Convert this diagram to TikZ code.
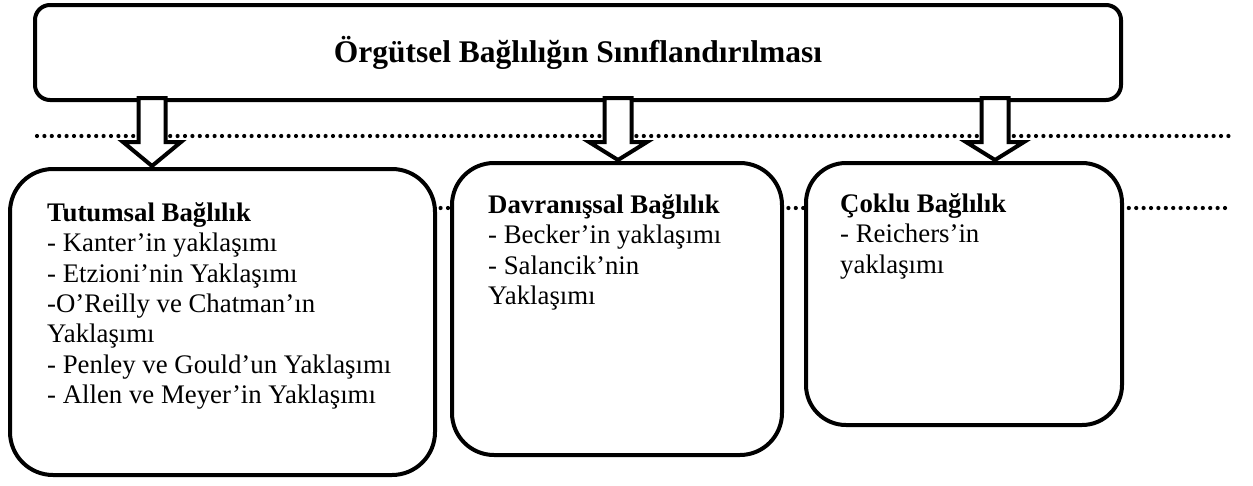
\documentclass[tikz,border=0pt]{standalone}
\usepackage{fontspec}
\setmainfont{Liberation Serif}
\usetikzlibrary{calc}

\begin{document}
\begin{tikzpicture}[x=1pt,y=-1pt,
  panel/.style={draw, line width=4pt, fill=white, rounded corners=#1, inner sep=0pt},
  dotline/.style={line width=4.2pt, line cap=round, dash pattern=on 0pt off 7.4pt},
  body/.style={inner sep=0pt, align=left, anchor=north west,
    font=\fontsize{26.8}{30.3}\selectfont},
  blockarrow/.style={draw, line width=4pt, fill=white, line join=miter,
    to path={let \p1=(\tikztostart), \p2=(\tikztotarget) in
      (\x1-13.5pt,\y1+4pt) -- (\x1+13.5pt,\y1+4pt) -- (\x1+13.5pt,\y1-40pt)
      -- (\x1+29pt,\y1-40pt) -- (\x2,\y2+1pt) -- (\x1-29pt,\y1-40pt)
      -- (\x1-13.5pt,\y1-40pt) -- cycle}}]

\useasboundingbox (0,0) rectangle (1253,485);

% dotted guide lines behind everything
\coordinate (d1a) at (37,136);
\coordinate (d1b) at (1232,136);
\coordinate (d2a) at (300,208);
\coordinate (d2b) at (1232,208);
\draw[dotline] (d1a) -- (d1b);
\draw[dotline] (d2a) -- (d2b);

% heading box
\node[panel=15pt, minimum width=1086pt, minimum height=95pt,
  font=\fontsize{31.5}{36}\selectfont\bfseries] (top) at (578,52.5)
  {Örgütsel Bağlılığın Sınıflandırılması};

% the three category boxes
\node[panel=43pt, minimum width=425pt, minimum height=306pt] (b1) at (222.5,322) {};
\node[panel=42pt, minimum width=330pt, minimum height=292pt] (b2) at (617,309) {};
\node[panel=40pt, minimum width=316pt, minimum height=262pt] (b3) at (964,294) {};

\node[body] (t1) at (47,202.5) {\textbf{Tutumsal Bağlılık}\\
- Kanter’in yaklaşımı\\
- Etzioni’nin Yaklaşımı\\
-O’Reilly ve Chatman’ın\\
Yaklaşımı\\
- Penley ve Gould’un Yaklaşımı\\
- Allen ve Meyer’in Yaklaşımı};

\node[body] (t2) at (488,194.5) {\textbf{Davranışsal Bağlılık}\\
- Becker’in yaklaşımı\\
- Salancik’nin\\
Yaklaşımı};

\node[body] (t3) at (840,193.5) {\textbf{Çoklu Bağlılık}\\
- Reichers’in\\
yaklaşımı};

% block arrows from the heading to each category
\coordinate (a1) at (152,0);
\coordinate (a2) at (618,0);
\coordinate (a3) at (995,0);
\draw[blockarrow] (top.south -| a1) to (b1.north -| a1);
\draw[blockarrow] (top.south -| a2) to (b2.north -| a2);
\draw[blockarrow] (top.south -| a3) to (b3.north -| a3);
\end{tikzpicture}
\end{document}
